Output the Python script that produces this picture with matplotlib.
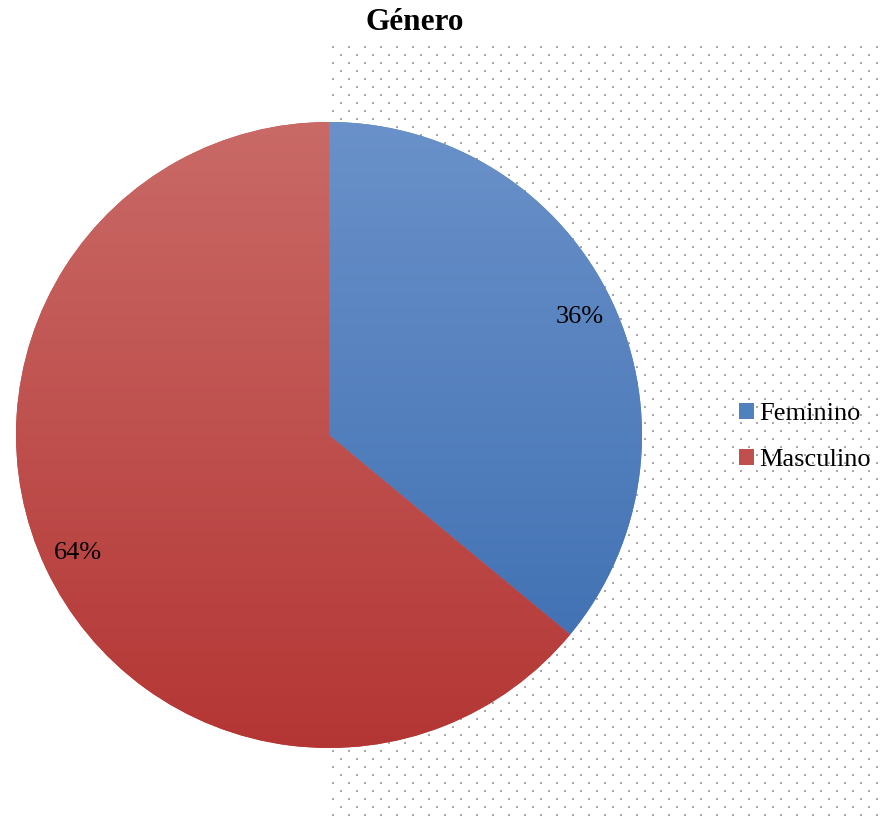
import numpy as np
import matplotlib
matplotlib.use("Agg")
import matplotlib.pyplot as plt
from matplotlib.patches import Patch
from matplotlib.colors import LinearSegmentedColormap

plt.rcParams['font.family'] = ['Liberation Serif', 'DejaVu Serif']

title = "Género"
categories = ["Feminino", "Masculino"]
values = [36, 64]
base_colors = ["#4f81bd", "#c0504d"]
grad_top = ["#6a91c9", "#c96a67"]
grad_bottom = ["#3a6cb0", "#b43634"]

W, H = 884, 819
fig = plt.figure(figsize=(W / 100, H / 100), dpi=100)

# dotted background pattern (decorative)
bg = fig.add_axes([0, 0, 1, 1], zorder=0)
bg.set_xlim(0, W)
bg.set_ylim(H, 0)
bg.axis('off')
xs, ys = [], []
for k, y in enumerate(np.arange(47, H, 8)):
    off = 0 if k % 2 == 0 else 8
    for x in np.arange(333 + off, W, 16):
        xs.append(x)
        ys.append(y)
bg.scatter(xs, ys, s=2.6, marker='s', color='#a8a8a8', linewidths=0)

# pie
cx, cy, r = 329, 435, 313
ax = fig.add_axes([(cx - r) / W, (H - cy - r) / H, 2 * r / W, 2 * r / H], zorder=1)
wedges, texts, autotexts = ax.pie(
    values, colors=base_colors, startangle=90, counterclock=False,
    autopct=lambda p: f"{p:.0f}%", pctdistance=0.885, radius=1,
    textprops=dict(fontsize=19, color='black'))
ax.set_xlim(-1, 1)
ax.set_ylim(-1, 1)
ax.set_aspect('auto')
ax.axis('off')

grad = np.linspace(0, 1, 256).reshape(-1, 1)
for w, ct, cb in zip(wedges, grad_top, grad_bottom):
    cmap = LinearSegmentedColormap.from_list('g', [ct, cb])
    im = ax.imshow(grad, cmap=cmap, extent=(-1, 1, -1, 1), origin='upper',
                   aspect='auto', zorder=1.5)
    im.set_clip_path(w)
for t in autotexts:
    t.set_zorder(3)

fig.text(415 / W, 1 - 22 / H, title, ha='center', va='center',
         fontsize=22.5, fontweight='bold')

handles = [Patch(facecolor=c, edgecolor='none') for c in base_colors]
leg = fig.legend(handles, categories, loc='center left',
                 bbox_to_anchor=(726 / W, 1 - 437 / H), frameon=False,
                 fontsize=19, handlelength=0.55, handleheight=0.55,
                 handletextpad=0.2, labelspacing=0.9, borderpad=0)
leg.set_zorder(5)

fig.savefig("out.png", dpi=100)
